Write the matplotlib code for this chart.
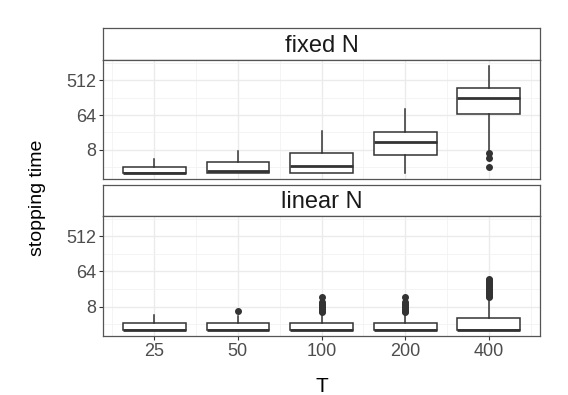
import numpy as np
import matplotlib
matplotlib.use('Agg')
import matplotlib.pyplot as plt
from matplotlib.ticker import FixedLocator, NullFormatter

plt.rcParams['font.family'] = ['Liberation Sans', 'DejaVu Sans']

T_labels = ['25', '50', '100', '200', '400']
facets = ['fixed N', 'linear N']

# box statistics of stopping time
fixed_q1 = [2, 2, 2, 5.9, 70]
fixed_med = [2.05, 2.35, 3, 12.7, 172]
fixed_q3 = [2.9, 3.8, 6.8, 24, 324]
fixed_lo = [2, 2, 2, 2, 8]
fixed_hi = [4.8, 7.5, 25, 91, 1190]
fixed_out = [[], [], [], [], [6.8, 4.9, 2.9]]

linear_q1 = [2, 2, 2, 2, 2]
linear_med = [2, 2, 2, 2, 2]
linear_q3 = [3, 3, 3, 3, 4.2]
linear_lo = [2, 2, 2, 2, 2]
linear_hi = [5, 4.7, 5.2, 5.2, 13]
linear_out = [[], [6.1],
              [5.7, 6.2, 6.8, 7.4, 8, 8.7, 9.5, 10.4, 14],
              [5.7, 6.2, 6.8, 7.4, 8, 8.7, 9.5, 10.4, 14],
              [14, 15, 16, 17, 18, 19, 20, 21, 22, 24, 26, 28, 31, 33, 36, 39, 41]]


def make_stats(q1, med, q3, lo, hi, out):
    return [dict(q1=q1[i], med=med[i], q3=q3[i], whislo=lo[i], whishi=hi[i], fliers=out[i])
            for i in range(len(q1))]


data = {
    'fixed N': make_stats(fixed_q1, fixed_med, fixed_q3, fixed_lo, fixed_hi, fixed_out),
    'linear N': make_stats(linear_q1, linear_med, linear_q3, linear_lo, linear_hi, linear_out),
}

W, H = 568, 395
fig = plt.figure(figsize=(W / 100, H / 100), dpi=100)

left, right = 103, 540
# (strip top, strip bottom, panel bottom) in pixels
rows = [(28, 60, 179), (185, 216, 336)]
border = '#555555'
pos = np.arange(1, len(T_labels) + 1)

for k, name in enumerate(facets):
    s_top, s_bot, p_bot = rows[k]
    sax = fig.add_axes([left / W, 1 - s_bot / H, (right - left) / W, (s_bot - s_top) / H])
    sax.set_xticks([])
    sax.set_yticks([])
    for sp in sax.spines.values():
        sp.set_color(border)
        sp.set_linewidth(0.9)
    sax.text(0.5, 0.45, name, ha='center', va='center', fontsize=17, color='#1A1A1A',
             transform=sax.transAxes)

    ax = fig.add_axes([left / W, 1 - p_bot / H, (right - left) / W, (p_bot - s_bot) / H])
    ax.set_yscale('log', base=2)
    ax.set_ylim(2 ** 0.51, 2 ** 10.72)
    ax.set_xlim(0.3875, 5.6125)

    ax.bxp(data[name], positions=pos, widths=0.75, patch_artist=True,
           boxprops=dict(facecolor='white', edgecolor='#333333', linewidth=1.1),
           medianprops=dict(color='#333333', linewidth=2.0),
           whiskerprops=dict(color='#333333', linewidth=1.1),
           capprops=dict(linewidth=0),
           flierprops=dict(marker='o', markersize=4, markerfacecolor='#333333',
                           markeredgecolor='#333333'),
           zorder=3)

    ax.yaxis.set_major_locator(FixedLocator([8, 64, 512]))
    ax.yaxis.set_minor_locator(FixedLocator([2 ** 1.5, 2 ** 4.5, 2 ** 7.5, 2 ** 10.5]))
    ax.yaxis.set_minor_formatter(NullFormatter())
    ax.set_yticklabels(['8', '64', '512'])
    ax.set_xticks(pos)
    ax.set_xticks(np.arange(0.5, 6.0, 1.0), minor=True)

    ax.grid(True, which='major', color='#EBEBEB', linewidth=1.0, zorder=0)
    ax.grid(True, which='minor', color='#F2F2F2', linewidth=0.6, zorder=0)
    ax.set_axisbelow(True)

    ax.tick_params(axis='both', which='major', direction='out', length=3, width=0.8,
                   color='#333333', labelsize=13, labelcolor='#4D4D4D', pad=2)
    ax.tick_params(axis='both', which='minor', length=0)
    if k == 0:
        ax.tick_params(axis='x', which='major', length=0, labelbottom=False)
    else:
        ax.set_xticklabels(T_labels)
    for sp in ax.spines.values():
        sp.set_color(border)
        sp.set_linewidth(0.9)

fig.text(37 / W, 1 - 198 / H, 'stopping time', rotation=90, ha='center', va='center',
         fontsize=14, color='black')
fig.text(322 / W, 1 - 386 / H, 'T', ha='center', va='center', fontsize=15, color='black')

plt.savefig('out.png', dpi=100)
